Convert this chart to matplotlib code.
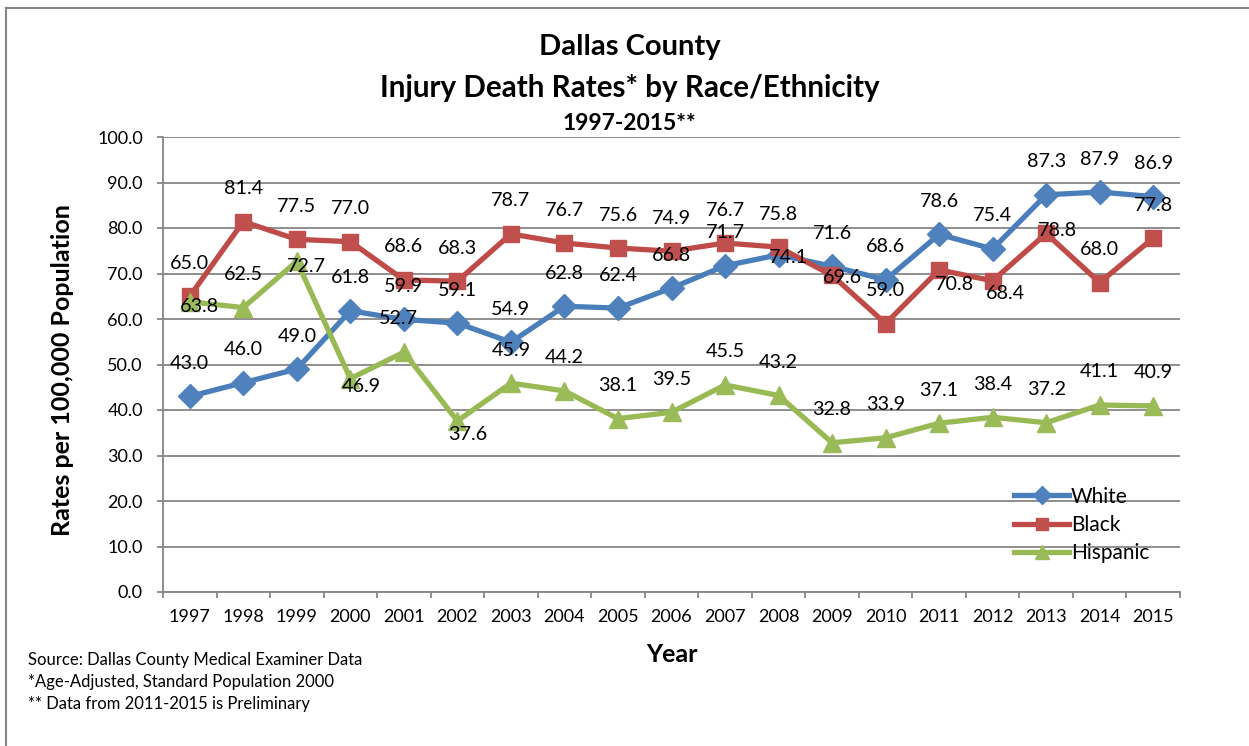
#!/usr/bin/env python3
"""Dallas County injury death rates by race/ethnicity, 1997-2015."""

import matplotlib
matplotlib.use('Agg')
import matplotlib.pyplot as plt
from matplotlib.lines import Line2D

plt.rcParams['font.family'] = ['Lato', 'DejaVu Sans']

years = ['1997', '1998', '1999', '2000', '2001', '2002', '2003', '2004', '2005', '2006',
         '2007', '2008', '2009', '2010', '2011', '2012', '2013', '2014', '2015']
white = [43.0, 46.0, 49.0, 61.8, 59.9, 59.1, 54.9, 62.8, 62.4, 66.8,
         71.7, 74.1, 71.6, 68.6, 78.6, 75.4, 87.3, 87.9, 86.9]
black = [65.0, 81.4, 77.5, 77.0, 68.6, 68.3, 78.7, 76.7, 75.6, 74.9,
         76.7, 75.8, 69.6, 59.0, 70.8, 68.4, 78.8, 68.0, 77.8]
hispanic = [63.8, 62.5, 72.7, 46.9, 52.7, 37.6, 45.9, 44.2, 38.1, 39.5,
            45.5, 43.2, 32.8, 33.9, 37.1, 38.4, 37.2, 41.1, 40.9]
series_names = ['White', 'Black', 'Hispanic']
yticks = [0, 10, 20, 30, 40, 50, 60, 70, 80, 90, 100]

# styling per series: line colour, marker fill, marker, marker size
styles = {
    'White': ('#4A7EBB', '#4F81BD', 'D', 12),
    'Black': ('#BE4B48', '#C0504D', 's', 11.5),
    'Hispanic': ('#98B954', '#9BBB59', '^', 13),
}

# data labels that were moved off the default "above" spot (pixels, y down)
label_moves = {
    ('Hispanic', 0): (10, 5),
    ('Hispanic', 2): (10, 5),
    ('Hispanic', 3): (11, 8),
    ('Hispanic', 4): (-5, -34),
    ('Hispanic', 5): (10, 14),
    ('White', 11): (10, 3),
    ('Black', 12): (10, 2),
    ('Black', 14): (15, 15),
    ('Black', 15): (13, 13),
    ('Black', 16): (11, -3),
}
PX = 0.72  # points per pixel at dpi 100

fig = plt.figure(figsize=(12.49, 7.46), dpi=100)
ax = fig.add_axes([163 / 1249, 1 - 592 / 746, (1180 - 163) / 1249, (592 - 137) / 746])

grid_col = '#868686'
x = list(range(len(years)))
data = {'White': white, 'Black': black, 'Hispanic': hispanic}
for name in series_names:
    lc, mc, mk, ms = styles[name]
    ax.plot(x, data[name], color=lc, lw=3.8, marker=mk, markersize=ms,
            markerfacecolor=mc, markeredgecolor=mc, label=name, zorder=3)

for name in series_names:
    for i, v in enumerate(data[name]):
        dx, dy = label_moves.get((name, i), (0, -33))
        ax.annotate(f'{v:.1f}', (i, v), xytext=(dx * PX, -dy * PX),
                    textcoords='offset points', ha='center', va='center',
                    fontsize=14.2, color='black', zorder=5)

ax.set_ylim(0, 100)
ax.set_yticks(yticks)
ax.set_yticklabels([f'{t:.1f}' for t in yticks])
ax.set_xlim(-0.5, len(years) - 0.5)
ax.set_xticks([i - 0.5 for i in range(len(years) + 1)])
ax.set_xticklabels([])
ax.set_xticks(x, minor=True)
ax.set_xticklabels(years, minor=True)
ax.tick_params(axis='x', which='major', length=4.5, width=1.3, color=grid_col)
ax.tick_params(axis='x', which='minor', length=0, pad=12, labelsize=13)
ax.tick_params(axis='y', length=4.5, width=1.3, color=grid_col, pad=10, labelsize=13)

ax.yaxis.grid(True, color=grid_col, lw=1.3)
ax.set_axisbelow(True)
for s in ['top', 'right']:
    ax.spines[s].set_visible(False)
for s in ['left', 'bottom']:
    ax.spines[s].set_color(grid_col)
    ax.spines[s].set_linewidth(1.3)

ax.set_ylabel('Rates per 100,000 Population', fontsize=18, fontweight='bold')
ax.yaxis.set_label_coords((74 - 163) / 1017, (592 - 370) / 455)
fig.text(672 / 1249, 1 - 655 / 746, 'Year', ha='center', va='center',
         fontsize=18, fontweight='bold')

fig.text(630 / 1249, 1 - 47 / 746, 'Dallas County', ha='center', va='center',
         fontsize=21, fontweight='bold')
fig.text(630 / 1249, 1 - 88 / 746, 'Injury Death Rates* by Race/Ethnicity', ha='center',
         va='center', fontsize=21.3, fontweight='bold')
fig.text(629 / 1249, 1 - 123 / 746, '1997-2015**', ha='center', va='center',
         fontsize=16.5, fontweight='bold')

notes = ['Source: Dallas County Medical Examiner Data',
         '*Age-Adjusted, Standard Population 2000',
         '** Data from 2011-2015 is Preliminary']
for k, note in enumerate(notes):
    fig.text(28 / 1249, 1 - (660 + 22 * k) / 746, note, ha='left', va='center', fontsize=12)

handles = []
for name in series_names:
    lc, mc, mk, ms = styles[name]
    handles.append(Line2D([], [], color=lc, lw=3.8, marker=mk, markersize=ms * 0.8,
                          markerfacecolor=mc, markeredgecolor=mc))
ax.legend(handles, series_names, loc='center left',
          bbox_to_anchor=(1004 / 1249, 1 - 525 / 746),
          bbox_transform=fig.transFigure, frameon=False, fontsize=15,
          handlelength=2.6, handletextpad=0.1, labelspacing=0.4, borderpad=0)

# chart area border (top and left edges visible)
fig.add_artist(Line2D([6 / 1249, 6 / 1249], [0, 1 - 8 / 746], color=grid_col, lw=1.5))
fig.add_artist(Line2D([6 / 1249, 1], [1 - 8 / 746, 1 - 8 / 746], color=grid_col, lw=1.5))

fig.savefig('out.png', dpi=100)
